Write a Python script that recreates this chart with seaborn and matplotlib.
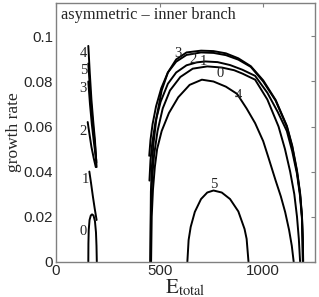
import matplotlib
matplotlib.use("Agg")
import matplotlib.pyplot as plt
import seaborn as sns
import pandas as pd

# inner branch, low-energy pieces (E_total, growth rate) for modes 0..5
left0_E = [156, 156.5, 158, 162, 168, 174, 181, 188, 193, 195.5, 197]
left0_g = [0, 0.008, 0.014, 0.0185, 0.0205, 0.021, 0.0205, 0.018, 0.013, 0.007, 0]
left1_E = [161, 169, 178, 187, 196]
left1_g = [0.040, 0.035, 0.029, 0.0235, 0.0185]
left2_E = [153, 161, 171, 182, 192]
left2_g = [0.062, 0.057, 0.051, 0.046, 0.042]
left3_E = [156, 164, 173, 183, 194]
left3_g = [0.080, 0.070, 0.061, 0.053, 0.045]
left4_E = [156, 163, 171, 180, 188, 196]
left4_g = [0.0958, 0.084, 0.072, 0.062, 0.054, 0.042]
left5_E = [156, 163, 171, 180, 189, 195]
left5_g = [0.088, 0.078, 0.068, 0.059, 0.051, 0.044]

# high-energy arches
right0_E = [456, 459, 464, 473, 490, 515, 550, 600, 660, 730, 800, 860, 900, 961,
            1020, 1074, 1105, 1130, 1150, 1163, 1172, 1178]
right0_g = [0, 0.027, 0.037, 0.047, 0.058, 0.068, 0.076, 0.082, 0.0857, 0.0867,
            0.0862, 0.085, 0.0835, 0.0808, 0.072, 0.060, 0.050, 0.040, 0.030,
            0.020, 0.010, 0]
right1_E = [451, 456, 465, 480, 505, 540, 580, 630, 680, 720, 780, 840, 900, 961,
            1020, 1070, 1114, 1140, 1163, 1178, 1187, 1191]
right1_g = [0.036, 0.045, 0.053, 0.062, 0.071, 0.079, 0.084, 0.0872, 0.0885,
            0.0889, 0.0886, 0.0873, 0.0852, 0.0825, 0.075, 0.0665, 0.058, 0.049,
            0.039, 0.029, 0.019, 0]
right2_E = [450, 456, 466, 483, 508, 540, 580, 630, 700, 760, 820, 880, 940, 1000,
            1060, 1114, 1140, 1163, 1178, 1187, 1191, 1192]
right2_g = [0.047, 0.054, 0.061, 0.069, 0.077, 0.084, 0.0888, 0.0918, 0.0929,
            0.0927, 0.0917, 0.0897, 0.0865, 0.080, 0.0715, 0.060, 0.051, 0.040,
            0.030, 0.020, 0.010, 0]
right3_E = [455, 458, 462, 470, 485, 510, 540, 580, 630, 700, 760, 820, 880, 940,
            1000, 1060, 1114, 1140, 1163, 1178, 1187, 1191, 1193]
right3_g = [0, 0.031, 0.041, 0.052, 0.064, 0.076, 0.084, 0.0898, 0.0929, 0.0937,
            0.0935, 0.0925, 0.0903, 0.0868, 0.0805, 0.0718, 0.0603, 0.0515,
            0.0405, 0.0305, 0.0205, 0.010, 0]
right4_E = [459, 462, 468, 477, 488, 510, 545, 590, 645, 704, 760, 820, 874, 920,
            961, 1000, 1026, 1060, 1085, 1106, 1125, 1138, 1147]
right4_g = [0, 0.02, 0.032, 0.042, 0.050, 0.058, 0.066, 0.073, 0.0785, 0.0808,
            0.080, 0.0777, 0.0745, 0.068, 0.0615, 0.0535, 0.046, 0.036, 0.029,
            0.022, 0.014, 0.007, 0]
right5_E = [634, 640, 650, 670, 700, 730, 760, 800, 840, 880, 910, 920, 929]
right5_g = [0, 0.0096, 0.0154, 0.0221, 0.0278, 0.0307, 0.0316, 0.0307, 0.0278,
            0.0223, 0.0145, 0.0101, 0]

# mode labels
label_text = ["4", "5", "3", "2", "1", "0", "3", "2", "1", "0", "4", "5"]
label_E = [132, 132, 132, 132, 141, 133, 589, 660, 712, 792, 881, 760]
label_g = [0.0926, 0.0849, 0.0771, 0.0578, 0.0363, 0.0133,
           0.0926, 0.0896, 0.0889, 0.0837, 0.0736, 0.0341]

curves = {
    "l0": (left0_E, left0_g), "l1": (left1_E, left1_g), "l2": (left2_E, left2_g),
    "l3": (left3_E, left3_g), "l4": (left4_E, left4_g), "l5": (left5_E, left5_g),
    "r0": (right0_E, right0_g), "r1": (right1_E, right1_g), "r2": (right2_E, right2_g),
    "r3": (right3_E, right3_g), "r4": (right4_E, right4_g), "r5": (right5_E, right5_g),
}
rows = []
for name, (es, gs) in curves.items():
    for i, (e, g) in enumerate(zip(es, gs)):
        rows.append({"curve": name, "order": i, "E": e, "g": g})
df = pd.DataFrame(rows)

sns.set_style("white")
plt.rcParams["mathtext.fontset"] = "stix"
serif = ["Liberation Serif", "DejaVu Serif"]

fig = plt.figure(figsize=(3.19, 2.97), dpi=100)
ax = fig.add_axes([0.1755, 0.119, 0.812, 0.872])

sns.lineplot(data=df, x="E", y="g", units="curve", estimator=None, sort=False,
             color="black", linewidth=1.4, ax=ax)

for t, e, g in zip(label_text, label_E, label_g):
    ax.text(e, g, t, family=serif, fontsize=10.5, ha="center", va="center")

ax.text(0.018, 0.952, "asymmetric \u2013 inner branch", transform=ax.transAxes,
        family=serif, fontsize=11.8, ha="left", va="center")

ax.set_xlim(0, 1250)
ax.set_ylim(0, 0.115)
ax.set_xticks([0, 500, 1000])
ax.set_yticks([0, 0.02, 0.04, 0.06, 0.08, 0.1])
ax.set_yticklabels(["0", "0.02", "0.04", "0.06", "0.08", "0.1"])
ax.tick_params(direction="in", top=True, right=True, length=3, width=0.8,
               color="#808080", labelsize=10.8, pad=2)
for lab in ax.get_xticklabels() + ax.get_yticklabels():
    lab.set_family(["Liberation Sans", "DejaVu Sans"])
for s in ax.spines.values():
    s.set_color("#808080")
    s.set_linewidth(1.0)

ax.set_xlabel(r"$\mathrm{E}_{\mathrm{total}}$", fontsize=15, labelpad=-1)
ax.set_ylabel("growth rate", family=serif, fontsize=12.5, labelpad=1)

fig.savefig("out.png", dpi=100)
